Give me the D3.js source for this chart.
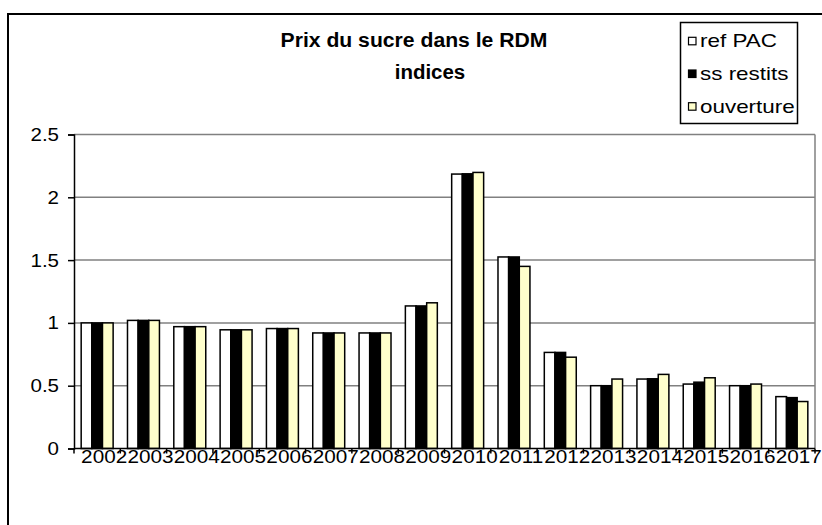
<!DOCTYPE html>
<html>
<head>
<meta charset="utf-8">
<script src="https://cdn.jsdelivr.net/npm/d3@7"></script>
<style>
  body { margin: 0; background: #fff; }
  text { font-family: "Liberation Sans", Arial, sans-serif; fill: #000; }
</style>
</head>
<body>
<svg id="chart" width="822" height="525"></svg>
<script>
// data
const years = ["2002", "2003", "2004", "2005", "2006", "2007", "2008", "2009",
               "2010", "2011", "2012", "2013", "2014", "2015", "2016", "2017"]
const refPAC    = [1.0, 1.02, 0.97, 0.945, 0.955, 0.92, 0.92, 1.135, 2.185, 1.525, 0.765, 0.5, 0.553, 0.513, 0.5, 0.413]
const ssRestits = [1.0, 1.02, 0.97, 0.945, 0.955, 0.92, 0.92, 1.135, 2.187, 1.525, 0.765, 0.5, 0.555, 0.528, 0.5, 0.405]
const ouverture = [1.0, 1.02, 0.97, 0.945, 0.955, 0.92, 0.92, 1.16, 2.198, 1.45, 0.727, 0.553, 0.59, 0.563, 0.513, 0.374]
const seriesNames = ["ref PAC", "ss restits", "ouverture"]
const seriesColors = ["#ffffff", "#000000", "#ffffcc"]
const yTicks = [0, 0.5, 1, 1.5, 2, 2.5]

const svg = d3.select("#chart")
const width = 822, height = 525
const margin = { top: 134.5, right: 7, bottom: 74, left: 74 }

// horizontally stretch text a bit, like the excel rendering
function stretch(sel, k) {
  sel.each(function () {
    const w = this.getComputedTextLength()
    d3.select(this).attr("textLength", w * k).attr("lengthAdjust", "spacingAndGlyphs")
  })
}

const data = years.map((yr, i) => ({
  year: yr,
  values: [refPAC[i], ssRestits[i], ouverture[i]]
}))

// outer frame
svg.append("rect")
  .attr("x", 8).attr("y", 14)
  .attr("width", 900).attr("height", 600)
  .style("fill", "#fff")
  .style("stroke", "#000")
  .style("stroke-width", "2px")

const x0 = d3.scaleBand()
  .domain(years)
  .range([margin.left, width - margin.right])
  .padding(0)

const x1 = d3.scaleBand()
  .domain(seriesNames)
  .range([x0.bandwidth() * 0.155, x0.bandwidth() * 0.845])
  .padding(0)

const y = d3.scaleLinear()
  .domain([0, 2.5])
  .range([height - margin.bottom - 2.5, margin.top])

// gridlines
svg.append("g")
  .selectAll("line")
  .data(yTicks.filter(d => d > 0))
  .join("line")
  .attr("x1", margin.left)
  .attr("x2", width - margin.right)
  .attr("y1", d => y(d))
  .attr("y2", d => y(d))
  .style("stroke", "#808080")
  .style("stroke-width", "1.5px")

// right border of plot area
svg.append("line")
  .attr("x1", width - margin.right).attr("x2", width - margin.right)
  .attr("y1", y(2.5)).attr("y2", y(0))
  .style("stroke", "#808080")
  .style("stroke-width", "1.5px")

// bars
svg.append("g")
  .selectAll("g")
  .data(data)
  .join("g")
  .attr("transform", d => `translate(${x0(d.year)},0)`)
  .selectAll("rect")
  .data(d => d.values.map((v, j) => ({ name: seriesNames[j], value: v, color: seriesColors[j] })))
  .join("rect")
  .attr("x", d => x1(d.name))
  .attr("y", d => y(d.value))
  .attr("width", x1.bandwidth())
  .attr("height", d => y(0) - y(d.value))
  .style("fill", d => d.color)
  .style("stroke", "#000")
  .style("stroke-width", "1.5px")

// y axis
const yAxis = svg.append("g")
  .attr("transform", `translate(${margin.left},0)`)
  .call(d3.axisLeft(y).tickValues(yTicks).tickSize(6).tickPadding(9).tickFormat(d3.format("")))
yAxis.select(".domain").style("stroke", "#000").style("stroke-width", "1.5px")
yAxis.selectAll(".tick line").style("stroke", "#000").style("stroke-width", "1.5px")
yAxis.selectAll(".tick text")
  .style("font-size", "19px")
  .style("font-family", "'Liberation Sans', Arial, sans-serif")
  .call(stretch, 1.08)

// x axis: ticks at category boundaries
const xAxis = svg.append("g")
  .attr("transform", `translate(0,${y(0)})`)
xAxis.append("line")
  .attr("x1", margin.left).attr("x2", width - margin.right)
  .style("stroke", "#000").style("stroke-width", "1.5px")
xAxis.selectAll(".tk")
  .data(years.concat(["end"]))
  .join("line")
  .attr("class", "tk")
  .attr("x1", (d, i) => margin.left + i * x0.step())
  .attr("x2", (d, i) => margin.left + i * x0.step())
  .attr("y1", 0).attr("y2", 5)
  .style("stroke", "#000").style("stroke-width", "1.5px")
xAxis.selectAll(".lbl")
  .data(years)
  .join("text")
  .attr("class", "lbl")
  .attr("x", d => x0(d) + x0.bandwidth() / 2 + 7)
  .attr("y", 14)
  .attr("text-anchor", "middle")
  .style("font-size", "19px")
  .text(d => d)
  .call(stretch, 1.09)

// title
svg.append("text")
  .attr("x", 414).attr("y", 47.3)
  .attr("text-anchor", "middle")
  .style("font-size", "19.5px")
  .style("font-weight", "bold")
  .text("Prix du sucre dans le RDM")
  .call(stretch, 1.085)
svg.append("text")
  .attr("x", 430).attr("y", 79.3)
  .attr("text-anchor", "middle")
  .style("font-size", "19.5px")
  .style("font-weight", "bold")
  .text("indices")
  .call(stretch, 1.05)

// legend
const legend = svg.append("g")
legend.append("rect")
  .attr("x", 680.5).attr("y", 22.5)
  .attr("width", 117).attr("height", 101)
  .style("fill", "#fff")
  .style("stroke", "#000")
  .style("stroke-width", "1.5px")
const items = legend.selectAll(".item")
  .data(seriesNames)
  .join("g")
  .attr("class", "item")
  .attr("transform", (d, i) => `translate(688,${47.3 + i * 32.7})`)
items.append("rect")
  .attr("x", 0.5).attr("y", -10)
  .attr("width", 7.5).attr("height", 7.5)
  .style("fill", (d, i) => seriesColors[i])
  .style("stroke", "#000")
  .style("stroke-width", "1.2px")
items.append("text")
  .attr("x", 12).attr("y", 0)
  .style("font-size", "19px")
  .text(d => d)
  .call(stretch, 1.18)
</script>
</body>
</html>
